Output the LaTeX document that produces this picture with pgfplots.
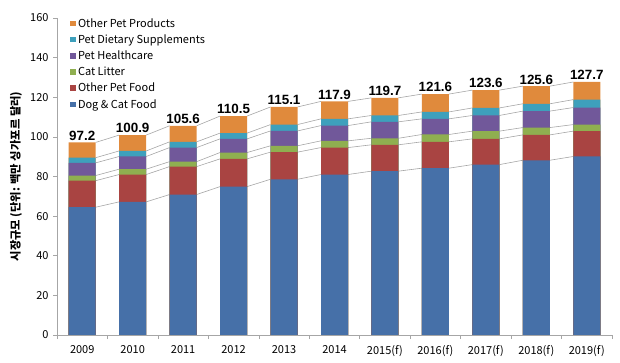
\documentclass[border=0pt]{standalone}
\usepackage{pgfplots}
\usepackage{pgfplotstable}
\pgfplotsset{compat=1.18}
\usepackage{fontspec}
\setmainfont{Noto Sans CJK KR}
\newfontfamily\arialf{Liberation Sans}
\definecolor{cDCF}{HTML}{4670A8}
\definecolor{cOPF}{HTML}{A94442}
\definecolor{cCL}{HTML}{8FAF50}
\definecolor{cPH}{HTML}{71589A}
\definecolor{cPDS}{HTML}{3EA0BC}
\definecolor{cOPP}{HTML}{E08A3C}
\definecolor{axgray}{HTML}{A6A6A6}

% cumulative tops of the stacked segments
\pgfplotstableread{
x a b c d e f
0 64.5 77.9 80.5 86.9 89.5 97.2
1 67.2 81.0 83.7 90.1 92.9 100.9
2 70.9 85.0 87.5 94.6 97.5 105.6
3 74.9 88.9 92.1 99.0 101.9 110.5
4 78.6 92.3 95.5 103.0 106.2 115.1
5 81.0 94.6 98.0 105.7 109.1 117.9
6 82.7 96.0 99.3 107.6 110.8 119.7
7 84.2 97.5 101.2 109.1 112.6 121.6
8 86.0 99.0 102.9 110.8 114.6 123.6
9 88.2 101.0 104.7 113.0 116.7 125.6
10 90.1 102.9 106.2 114.8 118.8 127.7
}\cum

% series lines between bars
\pgfplotstableread{
x a b c d e f
0.268 64.5 77.9 80.5 86.9 89.5 97.2
0.732 67.2 81.0 83.7 90.1 92.9 100.9
nan nan nan nan nan nan nan
1.268 67.2 81.0 83.7 90.1 92.9 100.9
1.732 70.9 85.0 87.5 94.6 97.5 105.6
nan nan nan nan nan nan nan
2.268 70.9 85.0 87.5 94.6 97.5 105.6
2.732 74.9 88.9 92.1 99.0 101.9 110.5
nan nan nan nan nan nan nan
3.268 74.9 88.9 92.1 99.0 101.9 110.5
3.732 78.6 92.3 95.5 103.0 106.2 115.1
nan nan nan nan nan nan nan
4.268 78.6 92.3 95.5 103.0 106.2 115.1
4.732 81.0 94.6 98.0 105.7 109.1 117.9
nan nan nan nan nan nan nan
5.268 81.0 94.6 98.0 105.7 109.1 117.9
5.732 82.7 96.0 99.3 107.6 110.8 119.7
nan nan nan nan nan nan nan
6.268 82.7 96.0 99.3 107.6 110.8 119.7
6.732 84.2 97.5 101.2 109.1 112.6 121.6
nan nan nan nan nan nan nan
7.268 84.2 97.5 101.2 109.1 112.6 121.6
7.732 86.0 99.0 102.9 110.8 114.6 123.6
nan nan nan nan nan nan nan
8.268 86.0 99.0 102.9 110.8 114.6 123.6
8.732 88.2 101.0 104.7 113.0 116.7 125.6
nan nan nan nan nan nan nan
9.268 88.2 101.0 104.7 113.0 116.7 125.6
9.732 90.1 102.9 106.2 114.8 118.8 127.7
}\seglines

\begin{document}
\begin{tikzpicture}
\path[use as bounding box] (-57bp,-28bp) rectangle (563bp,335bp);
\begin{axis}[
  at={(0,0)}, anchor=south west,
  scale only axis, width=555bp, height=317bp,
  xmin=-0.5, xmax=10.5, ymin=0, ymax=160,
  ytick={0,20,...,160},
  xtick={0,...,10},
  xticklabels={2009,2010,2011,2012,2013,2014,2015(f),2016(f),2017(f),2018(f),2019(f)},
  minor xtick={-0.5,0.5,...,10.5},
  axis lines*=left,
  axis line style={draw=axgray, line width=0.6bp},
  tick align=outside,
  major tick length=4bp, minor tick length=4bp,
  xtick style={draw=none},
  minor x tick style={draw=axgray, line width=0.6bp},
  ytick style={draw=axgray, line width=0.6bp},
  tick label style={font=\fontsize{11bp}{13bp}\selectfont},
  /pgf/number format/assume math mode=true,
  yticklabel style={xshift=-1bp},
  xticklabel style={yshift=-3bp},
  ylabel={시장규모 (단위: 백만 싱가포르 달러)},
  ylabel style={font=\fontsize{11.3bp}{13bp}\selectfont\bfseries, at={(axis description cs:-0.074,0.5)}, anchor=center},
  unbounded coords=jump,
  legend style={draw=none, fill=none, at={(0.022,1.009)}, anchor=north west,
    font=\fontsize{11bp}{13bp}\selectfont, row sep=2.0bp, inner sep=1bp,
    /tikz/every even column/.append style={column sep=0bp}},
  legend cell align=left,
  legend image code/.code={\fill[#1] (0bp,-2.8bp) rectangle (5.6bp,2.8bp);},
]
% series lines
\foreach \c in {a,b,c,d,e,f}{
  \addplot[forget plot, sharp plot, draw=axgray, line width=0.6bp] table[x=x, y=\c] {\seglines};
}
% bars drawn tallest first (cumulative tops)
\addplot[ybar, bar width=27bp, bar shift=0pt, fill=cOPP, draw=none,
  nodes near coords, nodes near coords align={vertical},
  every node near coord/.append style={font=\arialf\bfseries\fontsize{13.4bp}{15bp}\selectfont, yshift=-1.5bp,
    /pgf/number format/.cd, fixed, fixed zerofill, precision=1, assume math mode=true}]
  table[x=x, y=f] {\cum};
\addlegendentry{Other Pet Products}
\addplot[ybar, bar width=27bp, bar shift=0pt, fill=cPDS, draw=none] table[x=x, y=e] {\cum};
\addlegendentry{Pet Dietary Supplements}
\addplot[ybar, bar width=27bp, bar shift=0pt, fill=cPH, draw=none] table[x=x, y=d] {\cum};
\addlegendentry{Pet Healthcare}
\addplot[ybar, bar width=27bp, bar shift=0pt, fill=cCL, draw=none] table[x=x, y=c] {\cum};
\addlegendentry{Cat Litter}
\addplot[ybar, bar width=27bp, bar shift=0pt, fill=cOPF, draw=none] table[x=x, y=b] {\cum};
\addlegendentry{Other Pet Food}
\addplot[ybar, bar width=27bp, bar shift=0pt, fill=cDCF, draw=none] table[x=x, y=a] {\cum};
\addlegendentry{Dog \& Cat Food}
\end{axis}
\end{tikzpicture}
\end{document}
